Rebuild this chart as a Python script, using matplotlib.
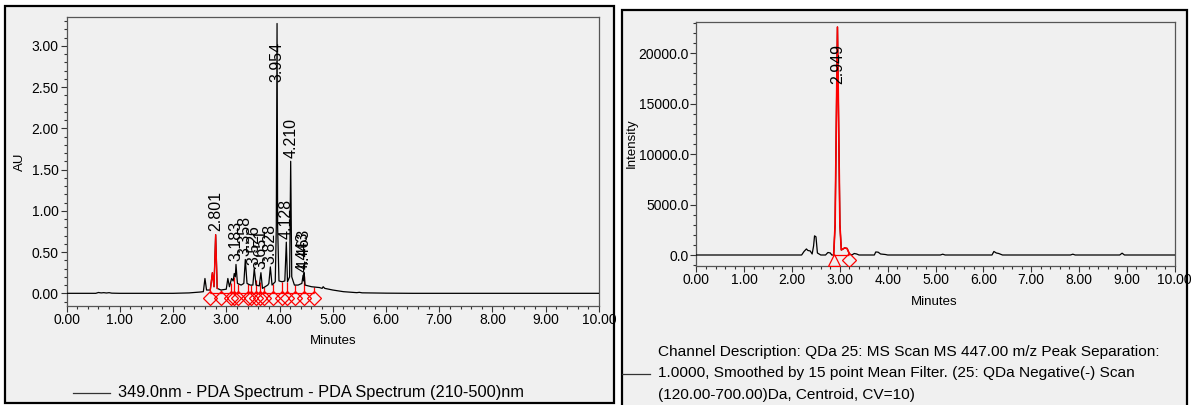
import numpy as np
import matplotlib
matplotlib.use('Agg')
import matplotlib.pyplot as plt
from matplotlib.patches import Rectangle
from matplotlib.lines import Line2D
from matplotlib.ticker import MultipleLocator, FormatStrFormatter

plt.rcParams['font.family'] = ['Liberation Sans', 'DejaVu Sans']

# PDA trace (349.0 nm): minutes / AU
pda_t = [0.00, 0.55, 0.60, 0.65, 0.70, 0.75, 0.80, 0.85, 1.00, 2.00, 2.30, 2.50,
         2.57, 2.60, 2.63, 2.70, 2.74, 2.77, 2.801, 2.83, 2.90, 3.00, 3.03, 3.06,
         3.10, 3.13, 3.15, 3.17, 3.183, 3.21, 3.28, 3.33, 3.358, 3.39, 3.45, 3.50,
         3.526, 3.56, 3.62, 3.651, 3.68, 3.78, 3.80, 3.828, 3.86, 3.92, 3.94, 3.954,
         3.965, 3.99, 4.05, 4.10, 4.128, 4.15, 4.19, 4.210, 4.23, 4.28, 4.35, 4.42,
         4.443, 4.455, 4.463, 4.48, 4.60, 4.75, 4.80, 4.82, 4.85, 5.00, 5.20, 5.45,
         5.50, 5.55, 6.00, 6.50, 10.00]
pda_au = [0.000, 0.000, 0.010, 0.005, 0.008, 0.004, 0.008, 0.002, 0.000, 0.000, 0.005, 0.015,
          0.020, 0.180, 0.040, 0.040, 0.250, 0.080, 0.710, 0.060, 0.040, 0.050, 0.180, 0.080,
          0.180, 0.150, 0.240, 0.200, 0.350, 0.120, 0.100, 0.120, 0.410, 0.120, 0.100, 0.100,
          0.300, 0.100, 0.090, 0.250, 0.060, 0.100, 0.120, 0.320, 0.100, 0.140, 0.800, 3.270,
          0.800, 0.150, 0.140, 0.150, 0.620, 0.140, 0.200, 1.600, 0.200, 0.100, 0.100, 0.120,
          0.220, 0.150, 0.250, 0.100, 0.080, 0.070, 0.060, 0.080, 0.060, 0.040, 0.020, 0.008,
          0.012, 0.006, 0.002, 0.000, 0.000]
pda_peak_rt = [2.801, 3.183, 3.358, 3.526, 3.651, 3.828, 3.954, 4.128, 4.210, 4.443, 4.463]
pda_peak_lbl = ['2.801', '3.183', '3.358', '3.526', '3.651', '3.828', '3.954', '4.128',
                '4.210', '4.443', '4.463']
pda_drops = [2.70, 2.90, 3.08, 3.14, 3.23, 3.40, 3.46, 3.55, 3.63, 3.71, 3.88, 4.04,
             4.15, 4.30, 4.46, 4.64]
pda_red = (2.70, 2.84)

# QDa MS trace (447.00 m/z): minutes / intensity
ms_t = [0.00, 2.20, 2.25, 2.30, 2.33, 2.38, 2.42, 2.45, 2.47, 2.50, 2.53, 2.60, 2.70,
        2.75, 2.80, 2.83, 2.87, 2.90, 2.949, 3.00, 3.03, 3.10, 3.15, 3.20, 3.25, 3.30,
        3.35, 3.40, 3.72, 3.75, 3.80, 3.85, 3.95, 4.00, 5.10, 5.15, 5.20, 6.18, 6.22,
        6.27, 6.32, 6.40, 7.82, 7.87, 7.92, 8.85, 8.90, 8.95, 10.00]
ms_int = [0, 0, 350, 600, 450, 400, 100, 900, 1900, 1800, 200, 0, 0,
          250, 200, 0, 0, 3000, 22600, 3000, 500, 700, 650, 100, 0, 150,
          100, 0, 0, 300, 280, 100, 50, 0, 0, 80, 0, 0, 350,
          200, 150, 0, 0, 80, 0, 0, 180, 0, 0]
ms_peak_rt = [2.949]
ms_peak_lbl = ['2.949']
ms_red = (2.87, 3.20)

W, H = 1192, 405


def box(x0, y0, x1, y1):
    return [x0 / W, 1 - y1 / H, (x1 - x0) / W, (y1 - y0) / H]


fig = plt.figure(figsize=(W / 100, H / 100), dpi=100, facecolor='white')

# panel frames
for x0, y0, x1, y1 in [(5, 6, 614, 403), (622, 10, 1187, 412)]:
    b = box(x0, y0, x1, y1)
    fig.patches.append(Rectangle((b[0], b[1]), b[2], b[3], transform=fig.transFigure,
                                 facecolor='#f0f0f0', edgecolor='black', lw=1.6,
                                 zorder=-5))


def style(ax, ymajor, yminor, yfmt):
    ax.set_facecolor('#f0f0f0')
    ax.set_xlim(0, 10)
    ax.xaxis.set_major_locator(MultipleLocator(1))
    ax.xaxis.set_minor_locator(MultipleLocator(0.2))
    ax.xaxis.set_major_formatter(FormatStrFormatter('%.2f'))
    ax.yaxis.set_major_locator(MultipleLocator(ymajor))
    ax.yaxis.set_minor_locator(MultipleLocator(yminor))
    ax.yaxis.set_major_formatter(FormatStrFormatter(yfmt))
    ax.tick_params(which='major', direction='out', length=4, width=0.8, labelsize=10,
                   pad=1.5, color='#333333')
    ax.tick_params(which='minor', direction='out', length=2.5, width=0.8, color='#333333')
    for s in ax.spines.values():
        s.set_color('#555555')
        s.set_linewidth(0.9)


# ---- left: PDA
ax1 = fig.add_axes(box(66.5, 17.3, 599, 305.7))
style(ax1, 0.5, 0.1, '%.2f')
ax1.set_ylim(-0.15, 3.345)
ax1.plot(pda_t, pda_au, color='black', lw=0.9, zorder=3)
t = np.array(pda_t)
m = (t >= pda_red[0]) & (t <= pda_red[1])
ax1.plot(t[m], np.array(pda_au)[m], color='red', lw=1.0, zorder=4)
ax1.hlines(0.005, pda_drops[0], pda_drops[-1], color='red', lw=0.9, zorder=2)
ax1.vlines(pda_drops, 0, np.interp(pda_drops, pda_t, pda_au), color='red', lw=0.9,
           zorder=2)
ax1.plot(pda_drops, [-0.055] * len(pda_drops), 'D', mfc='none', mec='red', ms=7,
         mew=0.9, zorder=5, clip_on=False)
for rt, lbl in zip(pda_peak_rt, pda_peak_lbl):
    y = min(np.interp(rt, pda_t, pda_au) + 0.04, 2.56)
    ax1.text(rt, y, lbl, rotation=90, ha='center', va='bottom', fontsize=11.5,
             zorder=6)
fig.text(20 / W, 1 - 162 / H, 'AU', rotation=90, ha='center', va='center', fontsize=9.5)
fig.text(333 / W, 1 - 341 / H, 'Minutes', ha='center', va='center', fontsize=9.5)
fig.lines.append(Line2D([73 / W, 110 / W], [1 - 393 / H] * 2, transform=fig.transFigure,
                        color='#333333', lw=0.9))
fig.text(118 / W, 1 - 392 / H, '349.0nm - PDA Spectrum - PDA Spectrum (210-500)nm',
         ha='left', va='center', fontsize=11.8)

# ---- right: MS
ax2 = fig.add_axes(box(696.4, 21.7, 1174.7, 265.7))
style(ax2, 5000, 1000, '%.1f')
ax2.set_ylim(-1061, 23134)
ax2.plot(ms_t, ms_int, color='black', lw=0.9, zorder=3)
t2 = np.array(ms_t)
m2 = (t2 >= ms_red[0]) & (t2 <= ms_red[1])
ax2.plot(t2[m2], np.array(ms_int)[m2], color='red', lw=1.2, zorder=4)
ax2.hlines(30, ms_red[0], ms_red[1], color='red', lw=0.9, zorder=2)
ax2.plot([ms_red[0]], [-450], '^', mfc='none', mec='red', ms=8, mew=0.9, zorder=5)
ax2.plot([ms_red[1]], [-450], 'D', mfc='none', mec='red', ms=7, mew=0.9, zorder=5)
for rt, lbl in zip(ms_peak_rt, ms_peak_lbl):
    y = min(np.interp(rt, ms_t, ms_int) + 300, 17000)
    ax2.text(rt, y, lbl, rotation=90, ha='center', va='bottom', fontsize=11.5, zorder=6)
fig.text(632 / W, 1 - 143.5 / H, 'Intensity', rotation=90, ha='center', va='center',
         fontsize=9.5)
fig.text(934.4 / W, 1 - 301.7 / H, 'Minutes', ha='center', va='center', fontsize=9.5)
fig.lines.append(Line2D([622 / W, 650 / W], [1 - 374 / H] * 2, transform=fig.transFigure,
                        color='#333333', lw=0.9))
ms_desc = ['Channel Description: QDa 25: MS Scan MS 447.00 m/z Peak Separation:',
           '1.0000, Smoothed by 15 point Mean Filter. (25: QDa Negative(-) Scan',
           '(120.00-700.00)Da, Centroid, CV=10)']
for i, line in enumerate(ms_desc):
    fig.text(658 / W, 1 - (352 + 21.5 * i) / H, line, ha='left', va='center',
             fontsize=11.1)

fig.savefig('out.png', dpi=100)
